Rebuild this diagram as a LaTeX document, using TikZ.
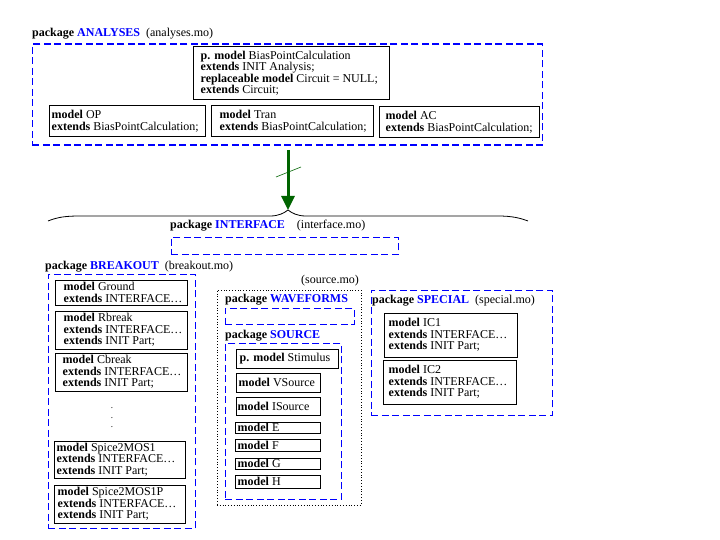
\documentclass[tikz,border=0pt]{standalone}
\usepackage{fontspec}
\setmainfont{Liberation Serif}
\usetikzlibrary{arrows.meta}
\definecolor{pkgblue}{RGB}{0,0,255}
\definecolor{depgreen}{RGB}{0,100,0}
\newcommand\kw[1]{\textbf{#1}}
\newcommand\pkgname[1]{\textbf{\color{pkgblue}#1}}
% model box: name, left x, top y, width, height, text indent, text
\newcommand\modelbox[7]{%
  \node[mdlframe, minimum width=#4, minimum height=#5] (#1) at (#2,#3) {};
  \node[mdltext] at ([xshift=#6]#1.west) {#7};}
\begin{document}
\begin{tikzpicture}[x=1pt,y=-1pt,
  font=\fontsize{12}{11.5}\selectfont,
  pkgbox/.style={draw=pkgblue, line width=1.8pt, dash pattern=on 7pt off 3.5pt,
    anchor=north west, inner sep=0pt},
  srcbox/.style={draw=black, line width=0.8pt, dotted, anchor=north west, inner sep=0pt},
  mdlframe/.style={draw=black, line width=0.9pt, anchor=north west, inner sep=0pt},
  mdltext/.style={anchor=west, inner sep=0pt, align=left, text=black},
  caption/.style={anchor=base west, inner sep=0pt, text=black},
  dotmark/.style={inner sep=0pt, anchor=base, font=\fontsize{9}{9}\selectfont},
  dep/.style={draw=depgreen, line width=3pt, -{Triangle[length=14pt,width=13pt]}},
  bracepath/.style={draw=black, line width=0.8pt}]
\useasboundingbox (0,0) rectangle (720,540);

% ---------- package ANALYSES ----------
\node[pkgbox, minimum width=510, minimum height=101] (analyses) at (31.5,43.5) {};
\node[caption] (lblanalyses) at (32,37) {\kw{package} \pkgname{ANALYSES}\ \ (analyses.mo)};
\modelbox{bias}{192.5}{46.5}{196}{53}{8pt}{\kw{p. model} BiasPointCalculation\\\kw{extends} INIT Analysis;\\\kw{replaceable model} Circuit = NULL;\\\kw{extends} Circuit;}
\modelbox{op}{48.5}{105.5}{156}{31}{3pt}{\kw{model} OP\\\kw{extends} BiasPointCalculation;}
\modelbox{tran}{210.5}{105.5}{162}{31}{9pt}{\kw{model} Tran\\\kw{extends} BiasPointCalculation;}
\modelbox{ac}{378.5}{106.5}{160}{31}{7pt}{\kw{model} AC\\\kw{extends} BiasPointCalculation;}

% ---------- dependency arrow and brace ----------
\coordinate (arrowtail) at (288,150);
\coordinate (bracetip) at (288,210);
\coordinate (braceleft) at (48,221);
\coordinate (braceright) at (528,221);
\coordinate (slashlow) at (276,177);
\coordinate (slashhigh) at (301,167);
\draw[bracepath] (braceleft) .. controls (58,217) and (66,216) .. (80,216)
  -- (270,216) .. controls (279,216) and (284,213) .. (bracetip)
  .. controls (292,213) and (297,216) .. (306,216)
  -- (498,216) .. controls (512,216) and (520,218) .. (braceright);
\draw[dep] (arrowtail) -- (bracetip);
\draw[draw=depgreen, line width=0.6pt] (slashlow) -- (slashhigh);

% ---------- package INTERFACE ----------
\node[pkgbox, minimum width=227, minimum height=17] (interface) at (170.5,236.5) {};
\node[caption] (lblinterface) at (170,229) {\kw{package} \pkgname{INTERFACE}\ \ \ \ (interface.mo)};

% ---------- package BREAKOUT ----------
\node[pkgbox, minimum width=147, minimum height=254] (breakout) at (47.5,273.5) {};
\node[caption] (lblbreakout) at (45,269) {\kw{package} \pkgname{BREAKOUT}\ \ (breakout.mo)};
\modelbox{ground}{54.5}{279.5}{132}{25}{9pt}{\kw{model} Ground\\\kw{extends} INTERFACE\dots}
\modelbox{rbreak}{54.5}{310.5}{132}{38}{9pt}{\kw{model} Rbreak\\\kw{extends} INTERFACE\dots\\\kw{extends} INIT Part;}
\modelbox{cbreak}{54.5}{352.5}{132}{38}{8pt}{\kw{model} Cbreak\\\kw{extends} INTERFACE\dots\\\kw{extends} INIT Part;}
\node[dotmark] (dota) at (112,408) {.};
\node[dotmark] (dotb) at (112,418) {.};
\node[dotmark] (dotc) at (112,427) {.};
\modelbox{mosa}{53.5}{440.5}{131}{37}{3pt}{\kw{model} Spice2MOS1\\\kw{extends} INTERFACE\dots\\\kw{extends} INIT Part;}
\modelbox{mosb}{53.5}{484.5}{131}{38}{4pt}{\kw{model} Spice2MOS1P\\\kw{extends} INTERFACE\dots\\\kw{extends} INIT Part;}

% ---------- source.mo: WAVEFORMS and SOURCE ----------
\node[srcbox, minimum width=144, minimum height=215] (sourcefile) at (216.5,289.5) {};
\node[caption] (lblsourcefile) at (301,283) {(source.mo)};
\node[pkgbox, minimum width=129, minimum height=16] (waveforms) at (224.5,307.5) {};
\node[caption] (lblwaveforms) at (225,302) {\kw{package} \pkgname{WAVEFORMS}};
\node[pkgbox, minimum width=116, minimum height=156] (source) at (224.5,342.5) {};
\node[caption] (lblsource) at (225,338) {\kw{package} \pkgname{SOURCE}};
\modelbox{stimulus}{235.5}{348.5}{102}{19}{4pt}{\kw{p. model} Stimulus}
\modelbox{vsource}{235.5}{372.5}{84}{19}{3pt}{\kw{model} VSource}
\modelbox{isource}{235.5}{396.5}{84}{18}{2pt}{\kw{model} ISource}
\modelbox{srce}{234.5}{421.5}{85}{11}{3pt}{\kw{model} E}
\modelbox{srcf}{234.5}{438.5}{85}{12}{3pt}{\kw{model} F}
\modelbox{srcg}{234.5}{457.5}{85}{11}{3pt}{\kw{model} G}
\modelbox{srch}{234.5}{474.5}{85}{13}{3pt}{\kw{model} H}

% ---------- package SPECIAL ----------
\node[pkgbox, minimum width=181, minimum height=125] (special) at (370.5,289.5) {};
\node[caption] (lblspecial) at (372,303) {\kw{package} \pkgname{SPECIAL}\ \ (special.mo)};
\modelbox{icone}{383.5}{312.5}{133}{44}{5pt}{\kw{model} IC1\\\kw{extends} INTERFACE\dots\\\kw{extends} INIT Part;}
\modelbox{ictwo}{382.5}{359.5}{133}{44}{6pt}{\kw{model} IC2\\\kw{extends} INTERFACE\dots\\\kw{extends} INIT Part;}
\end{tikzpicture}
\end{document}
